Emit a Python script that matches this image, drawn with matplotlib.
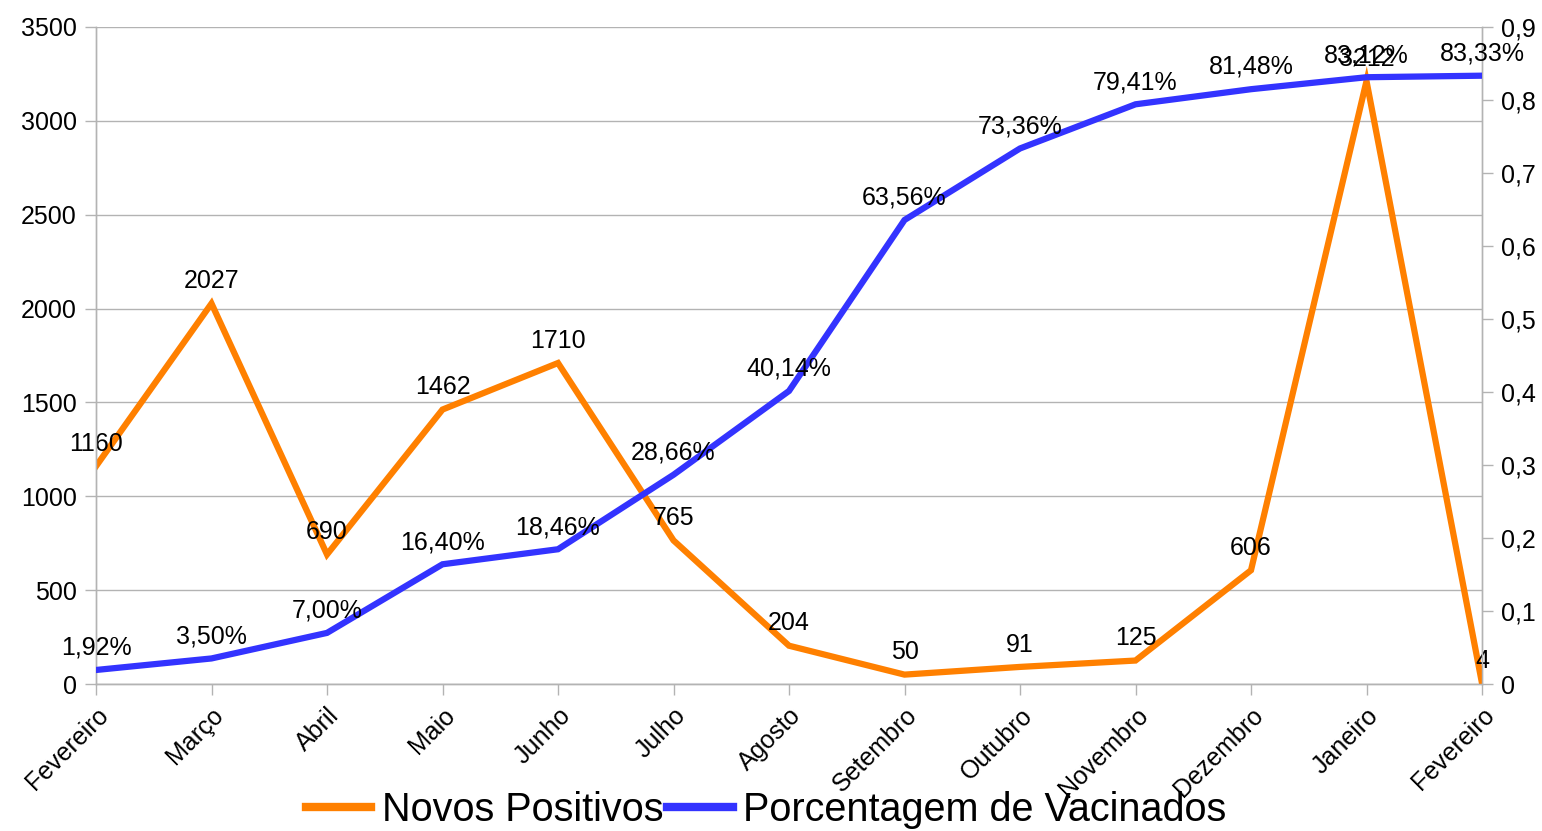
import matplotlib
matplotlib.use("Agg")
import matplotlib.pyplot as plt
from matplotlib.ticker import FuncFormatter, MultipleLocator

plt.rcParams['font.family'] = ['Liberation Sans', 'DejaVu Sans']

meses = ["Fevereiro", "Março", "Abril", "Maio", "Junho", "Julho", "Agosto",
         "Setembro", "Outubro", "Novembro", "Dezembro", "Janeiro", "Fevereiro"]
novos_positivos = [1160, 2027, 690, 1462, 1710, 765, 204, 50, 91, 125, 606, 3212, 4]
pct_vacinados = [0.0192, 0.0350, 0.0700, 0.1640, 0.1846, 0.2866, 0.4014,
                 0.6356, 0.7336, 0.7941, 0.8148, 0.8312, 0.8333]

ORANGE = "#ff8000"
BLUE = "#3333ff"
GRID = "#b3b3b3"
FS = 18

fig = plt.figure(figsize=(15.42, 8.31), dpi=100)
ax = fig.add_axes([96/1542, 1-684/831, (1482-96)/1542, (684-27)/831])
ax2 = ax.twinx()

x = list(range(len(meses)))
l1, = ax.plot(x, novos_positivos, color=ORANGE, lw=4.5, solid_joinstyle='miter',
              label="Novos Positivos", zorder=3)
l2, = ax2.plot(x, pct_vacinados, color=BLUE, lw=4.5, solid_joinstyle='miter',
               label="Porcentagem de Vacinados", zorder=3)

ax.set_xlim(0, len(meses) - 1)
ax.set_ylim(0, 3500)
ax2.set_ylim(0, 0.9)
ax.yaxis.set_major_locator(MultipleLocator(500))
ax2.yaxis.set_major_locator(MultipleLocator(0.1))
ax2.yaxis.set_major_formatter(FuncFormatter(
    lambda v, p: "0" if abs(v) < 1e-9 else ("%.1f" % v).replace(".", ",")))

ax.grid(axis='y', color=GRID, lw=1)
ax.set_axisbelow(True)

for a in (ax, ax2):
    for s in a.spines.values():
        s.set_color(GRID)
        s.set_linewidth(1)
    a.spines['top'].set_visible(False)
    a.tick_params(colors=GRID, labelcolor='black', labelsize=FS, length=8, width=1)

ax.set_xticks(x)
ax.set_xticklabels(meses, rotation=45, ha='right', va='top', rotation_mode='anchor')
ax.tick_params(axis='x', pad=6)
ax.tick_params(axis='y', pad=6)
ax2.tick_params(axis='y', pad=6)

for xi, v in zip(x, novos_positivos):
    ax.annotate(str(v), (xi, v), xytext=(0, 16), textcoords='offset points',
                ha='center', va='center', fontsize=FS, zorder=5, annotation_clip=False)
for xi, v in zip(x, pct_vacinados):
    ax2.annotate(("%.2f%%" % (v * 100)).replace(".", ","), (xi, v), xytext=(0, 16),
                 textcoords='offset points', ha='center', va='center', fontsize=FS,
                 zorder=5, annotation_clip=False)

fig.legend(handles=[l1, l2], loc='center', bbox_to_anchor=(0.497, 1 - 810/831),
           ncol=2, frameon=False, fontsize=28.5, handlelength=1.65, handletextpad=0.27,
           columnspacing=0.1, borderpad=0, borderaxespad=0)
for lh in fig.legends[0].get_lines():
    lh.set_linewidth(6)

fig.savefig("out.png", dpi=100)
